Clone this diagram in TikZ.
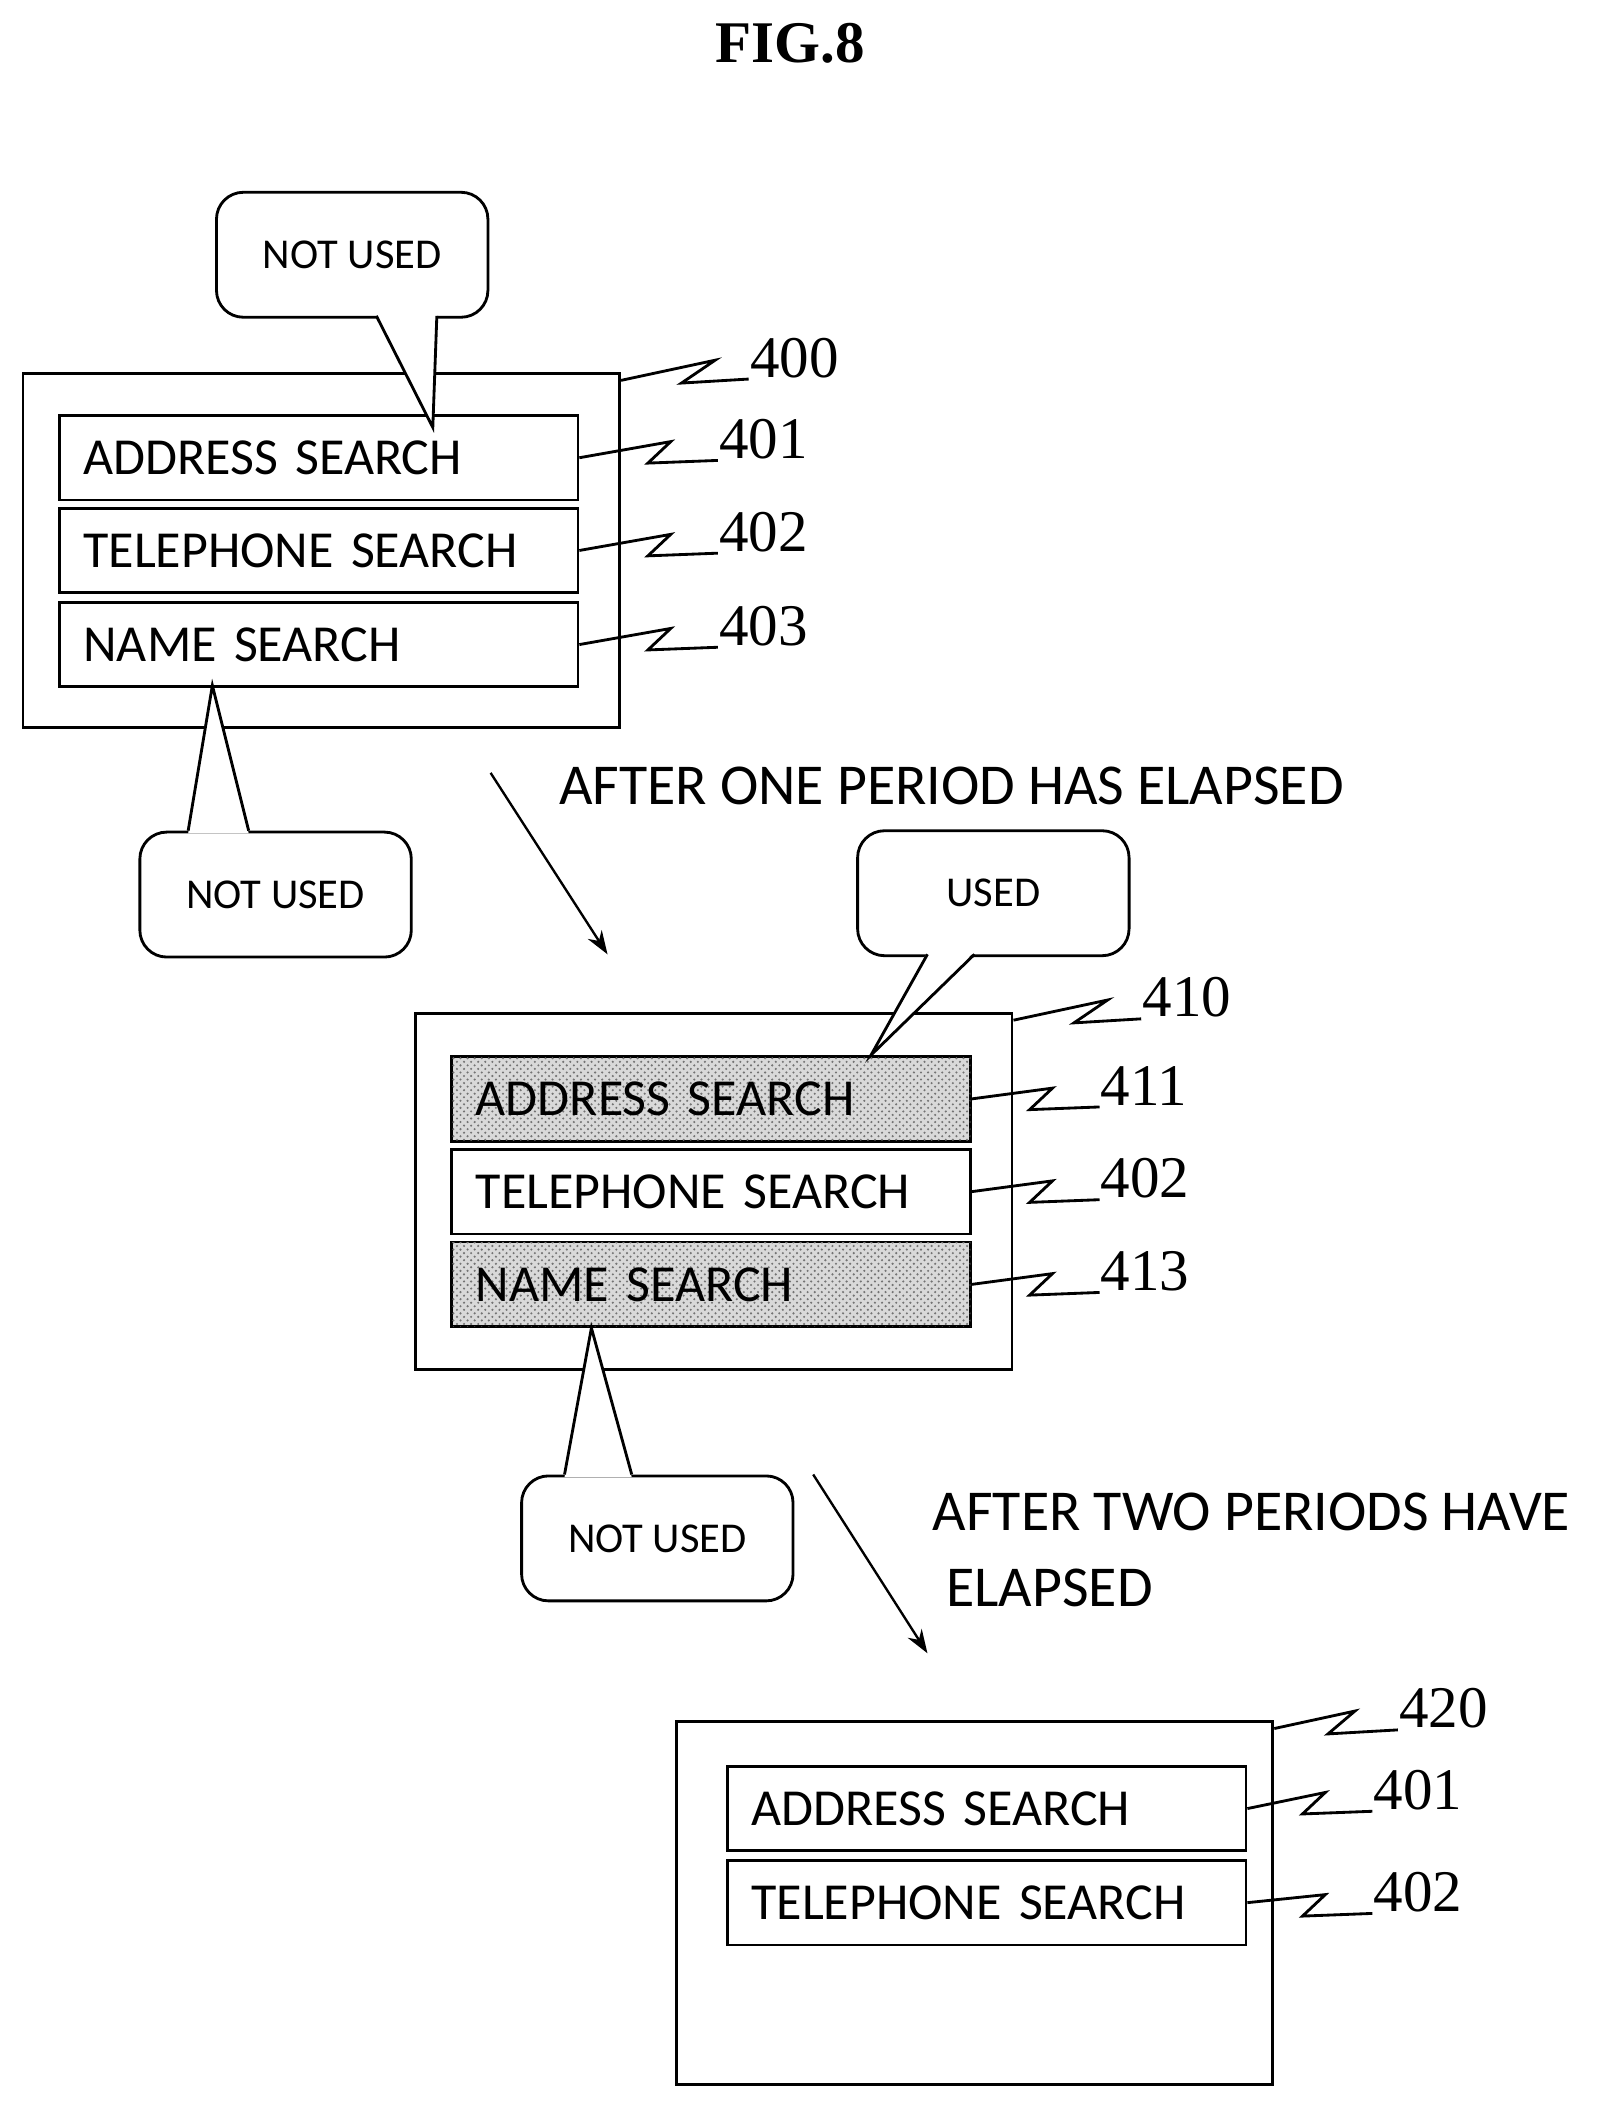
\documentclass[tikz,border=0pt]{standalone}
\usepackage{fontspec}
\setmainfont{Carlito}
\newfontfamily\numfont{Liberation Serif}
\usetikzlibrary{positioning,patterns,arrows.meta}

\begin{document}
\begin{tikzpicture}[
  x=0.02cm, y=-0.02cm,
  line width=1.2pt,
  frame/.style={draw, anchor=north west, inner sep=0pt},
  item/.style={draw, anchor=north west, fill=white, minimum width=7.68cm, minimum height=1.26cm,
    text width=7.0cm, inner xsep=0.36cm, align=left, font=\fontsize{22}{26}\selectfont},
  used/.style={item, fill=gray!30, postaction={pattern=crosshatch dots, pattern color=gray!90!black}},
  bubble/.style={draw, rounded corners=0.4cm, fill=white, minimum width=4.04cm, minimum height=1.86cm,
    anchor=north west, font=\fontsize{18}{21}\selectfont},
  lbl/.style={anchor=south west, inner sep=0pt, font=\numfont\fontsize{25}{30}\selectfont},
  note/.style={anchor=west, align=left, inner sep=0pt, font=\fontsize{24.5}{32}\selectfont},
  arr/.style={-{Stealth[length=10pt,width=7pt]}, line width=1pt}
]
\useasboundingbox (0,0) rectangle (1190,1578);

\node[font=\numfont\bfseries\fontsize{25}{30}\selectfont] (title) at (588,32) {FIG.8};

% first screen
\node[frame, minimum width=8.88cm, minimum height=5.26cm] (s400) at (16,277) {};
\node[item] (a401) at (43,308) {ADDRESS SEARCH};
\node[item] (t402) at (43,377) {TELEPHONE SEARCH};
\node[item] (n403) at (43,447) {NAME SEARCH};

\node[bubble] (c1) at (160,142) {NOT USED};
\coordinate (c1tip) at (322,318);
\fill[white] (280,233) -- (c1tip) -- (325,233) -- cycle;
\draw (280,235) -- (c1tip) -- (325,235);

\node[bubble] (c2) at (103,618) {NOT USED};
\coordinate (c2tip) at (158,510);
\fill[white] (140,620) -- (c2tip) -- (185,620) -- cycle;
\draw (140,618) -- (c2tip) -- (185,618);

\draw (s400.north east) ++(0,6) -- ++(70,-15) -- ++(-25,17) -- ++(50,-3) node[lbl] {400};
\draw (a401.east) -- ++(68,-12) -- ++(-17,16) -- ++(52,-2) node[lbl] {401};
\draw (t402.east) -- ++(68,-12) -- ++(-17,16) -- ++(52,-2) node[lbl] {402};
\draw (n403.east) -- ++(68,-12) -- ++(-17,16) -- ++(52,-2) node[lbl] {403};

% first period
\coordinate (p1a) at (365,575);
\coordinate (p1b) at (452,710);
\draw[arr] (p1a) -- (p1b);
\node[note] (txt1) at (415,585) {AFTER ONE PERIOD HAS ELAPSED};

% second screen
\node[frame, minimum width=8.88cm, minimum height=5.3cm] (s410) at (308,753) {};
\node[used] (a411) at (335,785) {ADDRESS SEARCH};
\node[item] (t412) at (335,854) {TELEPHONE SEARCH};
\node[used] (n413) at (335,923) {NAME SEARCH};

\node[bubble] (c3) at (637,617) {USED};
\coordinate (c3tip) at (648,785);
\fill[white] (690,708) -- (c3tip) -- (725,708) -- cycle;
\draw (690,710) -- (c3tip) -- (725,710);

\node[bubble] (c4) at (387,1097) {NOT USED};
\coordinate (c4tip) at (440,988);
\fill[white] (420,1099) -- (c4tip) -- (470,1099) -- cycle;
\draw (420,1097) -- (c4tip) -- (470,1097);

\draw (s410.north east) ++(0,6) -- ++(70,-15) -- ++(-25,17) -- ++(50,-3) node[lbl] {410};
\draw (a411.east) -- ++(60,-8) -- ++(-17,16) -- ++(52,-2) node[lbl] {411};
\draw (t412.east) -- ++(60,-8) -- ++(-17,16) -- ++(52,-2) node[lbl] {402};
\draw (n413.east) -- ++(60,-8) -- ++(-17,16) -- ++(52,-2) node[lbl] {413};

% second period
\coordinate (p2a) at (605,1097);
\coordinate (p2b) at (690,1230);
\draw[arr] (p2a) -- (p2b);
\node[note, anchor=north west] (txt2) at (693,1110) {AFTER TWO PERIODS HAVE\\\hspace*{0.2cm}ELAPSED};

% third screen
\node[frame, minimum width=8.88cm, minimum height=5.4cm] (s420) at (502,1280) {};
\node[item, minimum width=7.6cm] (a421) at (540,1313) {ADDRESS SEARCH};
\node[item, minimum width=7.6cm] (t422) at (540,1383) {TELEPHONE SEARCH};

\draw (s420.north east) ++(0,6) -- ++(60,-13) -- ++(-20,17) -- ++(52,-3) node[lbl] {420};
\draw (a421.east) -- ++(58,-12) -- ++(-17,16) -- ++(52,-2) node[lbl] {401};
\draw (t422.east) -- ++(58,-6) -- ++(-17,16) -- ++(52,-2) node[lbl] {402};
\end{tikzpicture}
\end{document}
